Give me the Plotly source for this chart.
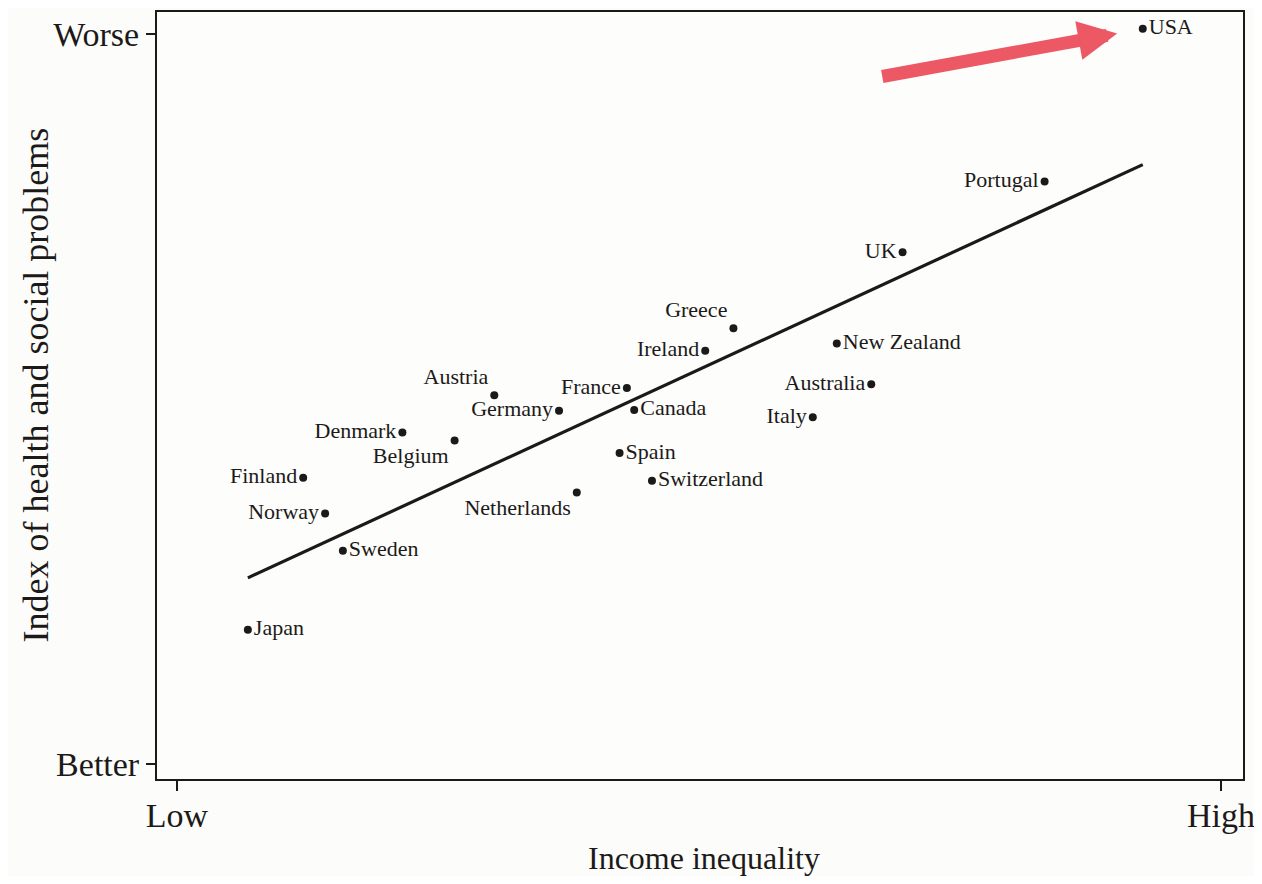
import plotly.graph_objects as go

# Data (0 = Low/Better, 100 = High/Worse)
countries = ["USA", "Portugal", "UK", "Greece", "New Zealand", "Ireland", "Australia",
             "France", "Austria", "Germany", "Canada", "Italy", "Denmark", "Belgium",
             "Spain", "Finland", "Switzerland", "Netherlands", "Norway", "Sweden", "Japan"]
inequality = [92.5, 83.1, 69.5, 53.3, 63.2, 50.6, 66.5,
              43.1, 30.4, 36.6, 43.8, 60.9, 21.6, 26.6,
              42.4, 12.1, 45.5, 38.3, 14.2, 15.9, 6.8]
problems = [100.7, 79.8, 70.1, 59.7, 57.6, 56.6, 52.0,
            51.5, 50.5, 48.4, 48.5, 47.5, 45.4, 44.3,
            42.6, 39.2, 38.8, 37.2, 34.3, 29.2, 18.4]
label_pos = ["middle right", "middle left", "middle left", "top left", "middle right",
             "middle left", "middle left", "middle left", "top left", "middle left",
             "middle right", "middle left", "middle left", "bottom left", "middle right",
             "middle left", "middle right", "bottom left", "middle left", "middle right",
             "middle right"]

fit_x = [6.8, 92.5]
fit_y = [25.5, 82.1]

x_ticks = [0, 100]
x_ticklabels = ["Low", "High"]
y_ticks = [0, 100]
y_ticklabels = ["Better", "Worse"]

SERIF = "Liberation Serif, Times New Roman, serif"
INK = "#1c1a18"

fig = go.Figure()
fig.add_trace(go.Scatter(x=fit_x, y=fit_y, mode="lines",
                         line=dict(color=INK, width=3.2), hoverinfo="skip", showlegend=False))
fig.add_trace(go.Scatter(x=inequality, y=problems, mode="markers+text",
                         text=countries, textposition=label_pos,
                         textfont=dict(family=SERIF, size=22, color=INK),
                         marker=dict(color=INK, size=8), showlegend=False))

usa_i = countries.index("USA")
fig.add_annotation(x=inequality[usa_i], y=problems[usa_i], xref="x", yref="y",
                   ax=-262, ay=48, axref="pixel", ayref="pixel", text="",
                   showarrow=True, arrowhead=2, arrowsize=0.6, arrowwidth=13,
                   arrowcolor="rgba(235,60,75,0.85)", standoff=26)

fig.add_annotation(text="Income inequality", xref="paper", yref="paper", x=0.5, y=0,
                   xshift=4, yshift=-79, xanchor="center", yanchor="middle", showarrow=False,
                   font=dict(family=SERIF, size=32, color=INK))
fig.add_annotation(text="Index of health and social problems", xref="paper", yref="paper",
                   x=0, y=0.5, xshift=-122, yshift=10, textangle=-90, xanchor="center",
                   yanchor="middle", showarrow=False,
                   font=dict(family=SERIF, size=36, color=INK))

axis_common = dict(showgrid=False, zeroline=False, showline=True, linecolor=INK,
                   linewidth=2, mirror=True, ticks="outside", tickcolor=INK, tickwidth=1.5,
                   tickfont=dict(family=SERIF, size=34, color=INK))
fig.update_xaxes(range=[-1.9, 102.1], tickvals=x_ticks, ticktext=x_ticklabels,
                 ticklen=10, ticklabelstandoff=-5, ticklabeloverflow="allow", **axis_common)
fig.update_yaxes(range=[-2.05, 103.0], tickvals=y_ticks, ticktext=y_ticklabels,
                 ticklen=9, **axis_common)

# The page body adds an 8px margin, so the figure is sized and offset for that.
fig.update_layout(width=1254, height=868, margin=dict(l=149, r=19, t=2, b=97),
                  paper_bgcolor="#fcfcfa", plot_bgcolor="#fdfdfc",
                  font=dict(family=SERIF, color=INK))
fig.write_html("out.html")
